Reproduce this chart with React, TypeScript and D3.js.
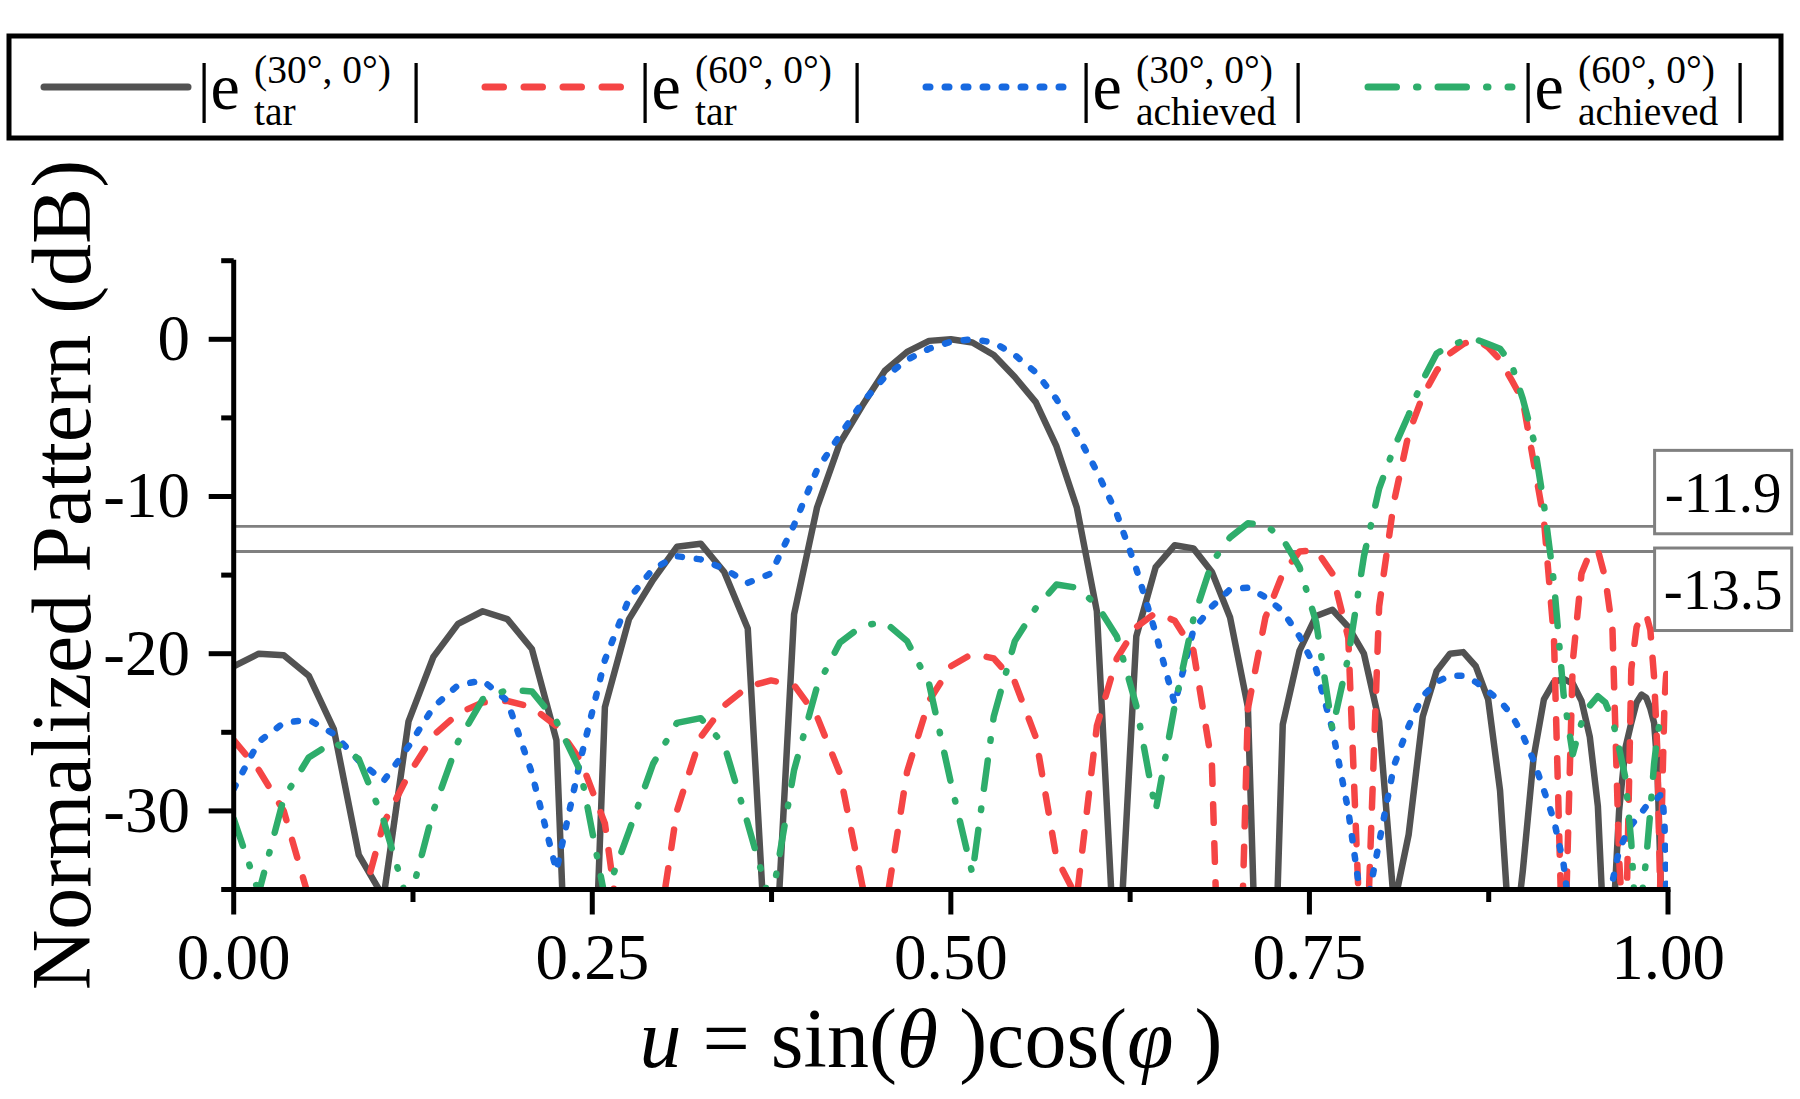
import React from "react";
import * as d3 from "d3";

// ---------- data ----------
// u = sin(theta)cos(phi) sample positions (theta stepped 0..90 deg, phi = 0)
const U = [
  0, 0.0175, 0.0349, 0.0523, 0.0698, 0.0872, 0.1045, 0.1219, 0.1392, 0.1564,
  0.1736, 0.1908, 0.2079, 0.225, 0.2419, 0.2588, 0.2756, 0.2924, 0.309, 0.3256,
  0.342, 0.3584, 0.3746, 0.3907, 0.4067, 0.4226, 0.4384, 0.454, 0.4695, 0.4848,
  0.5, 0.515, 0.5299, 0.5446, 0.5592, 0.5736, 0.5878, 0.6018, 0.6157, 0.6293,
  0.6428, 0.6561, 0.6691, 0.682, 0.6947, 0.7071, 0.7193, 0.7314, 0.7431, 0.7547,
  0.766, 0.7771, 0.788, 0.7986, 0.809, 0.8192, 0.829, 0.8387, 0.848, 0.8572,
  0.866, 0.8746, 0.8829, 0.891, 0.8988, 0.9063, 0.9135, 0.9205, 0.9272, 0.9336,
  0.9397, 0.9455, 0.9511, 0.9563, 0.9613, 0.9659, 0.9703, 0.9744, 0.9781, 0.9816,
  0.9848, 0.9877, 0.9903, 0.9925, 0.9945, 0.9962, 0.9976, 0.9986, 0.9994, 0.9998,
  1.0,
];

const TAR30 = [
  -20.8, -20.0, -20.1, -21.4, -24.8, -32.8, -35.5, -24.3, -20.2, -18.1,
  -17.3, -17.8, -19.7, -25.5, -65, -23.4, -17.8, -15.3, -13.2, -13.0,
  -14.8, -18.4, -45, -17.5, -10.7, -6.6, -4.2, -2.0, -0.8, -0.1,
  0, -0.2, -1.0, -2.4, -4.0, -6.8, -10.7, -17.3, -42, -18.9,
  -14.5, -13.1, -13.3, -14.8, -17.7, -23.4, -60, -24.5, -19.8, -17.6,
  -17.2, -18.3, -20.0, -24.3, -36, -31.5, -24.0, -21.1, -20.0, -19.9,
  -20.8, -22.9, -28.7, -40, -33.8, -26.6, -22.9, -21.8, -21.6, -21.9,
  -23.0, -25.3, -29.7, -40, -38, -30, -26.0, -24.4, -23.1, -22.6,
  -22.8, -23.5, -24.4, -27, -33, -40, -40, -40, -40, -40,
  -40,
];

const TAR60 = [
  -25.5, -27.4, -30.0, -35.5, -45, -36.6, -30.8, -27.7, -25.2, -23.8,
  -23.1, -23.0, -23.4, -24.6, -26.8, -30.8, -42, -40, -30.0, -25.3,
  -23.3, -22.1, -21.7, -22.0, -24.0, -27.6, -34.8, -36.5, -27.5, -23.0,
  -20.8, -20.0, -20.3, -21.8, -25.3, -33, -35.5, -24.6, -20.3, -18.3,
  -17.4, -17.9, -19.8, -27, -65, -23.5, -17.7, -14.9, -13.5, -13.4,
  -14.9, -19.0, -44, -17.0, -10.3, -6.0, -3.6, -2.0, -0.9, -0.3,
  0, -0.5, -1.3, -2.6, -3.9, -7.8, -11.5, -19, -42, -20.5,
  -14.9, -13.6, -13.4, -15.2, -18.5, -33, -40, -21, -18.3, -17.6,
  -17.5, -18.5, -21.5, -26, -35, -28, -23, -21.5, -20.8, -20.6,
  -20.5,
];

const ACH30 = [
  -28.6, -25.6, -24.4, -24.2, -25.1, -26.8, -28.1, -25.9, -23.4, -22.0,
  -21.7, -23.0, -27.6, -33.8, -26.7, -20.4, -16.5, -14.6, -13.8, -14.0,
  -14.6, -15.5, -14.9, -11.8, -8.3, -6.1, -4.0, -2.4, -1.3, -0.6,
  -0.15, 0, -0.2, -1.0, -2.1, -3.8, -6.0, -8.4, -11.1, -14.6,
  -18.7, -23.2, -18.5, -17.0, -15.9, -15.8, -16.4, -17.3, -18.9, -21.0,
  -24.8, -30.0, -37, -32, -27.1, -24.6, -22.7, -21.8, -21.4, -21.4,
  -21.8, -22.4, -23.0, -23.9, -25.2, -26.8, -28.7, -30.6, -33.4, -38,
  -45, -45, -42, -38, -34.5, -32.5, -31.6, -30.9, -30.5, -30.1,
  -29.7, -29.5, -29.3, -29.2, -29.0, -29.0, -31, -34, -40, -40,
  -40,
];

const ACH60 = [
  -30.5, -35.2, -29.2, -26.6, -25.6, -26.7, -30.6, -36, -30.0, -25.6,
  -22.9, -22.3, -22.4, -24.3, -27.5, -35.5, -31.3, -27.0, -24.4, -24.1,
  -25.8, -30.8, -36, -27.4, -22.1, -19.3, -18.2, -18.0, -19.2, -21.9,
  -28.2, -34, -24.0, -19.2, -17.1, -15.6, -15.8, -16.9, -18.9, -23.3,
  -30.0, -23.3, -17.8, -14.2, -12.6, -11.7, -11.8, -12.7, -14.5, -18.0,
  -24.8, -20.2, -13.8, -9.5, -6.9, -4.8, -2.6, -0.9, -0.4, -0.1,
  0, -0.3, -0.6, -1.6, -3.8, -6.4, -10.5, -15.5, -22.6, -26.4,
  -24.4, -23.3, -22.7, -23.1, -24.2, -26.0, -27.9, -32.0, -38, -35.5,
  -33.1, -30.0, -27.0, -25.3, -24.2, -23.9, -23.8, -23.8, -23.8, -23.8,
  -23.8,
];

const SERIES_NAMES = ["tar30", "tar60", "ach30", "ach60"];
const SERIES_VALUES = [TAR30, TAR60, ACH30, ACH60];
const SERIES_SUP = ["(30°, 0°)", "(60°, 0°)", "(30°, 0°)", "(60°, 0°)"];
const SERIES_SUB = ["tar", "tar", "achieved", "achieved"];

const Y_TICKS_MAJOR = [0, -10, -20, -30];
const Y_TICKS_MINOR = [5, -5, -15, -25, -35];
const X_TICKS_MAJOR = [0, 0.25, 0.5, 0.75, 1];
const X_TICKS_MINOR = [0.125, 0.375, 0.625, 0.875];
const X_TICK_LABELS = ["0.00", "0.25", "0.50", "0.75", "1.00"];
const REF_LEVELS = [-11.9, -13.5];
const REF_LABELS = ["-11.9", "-13.5"];

// ---------- styles ----------
const FONT = "'Liberation Serif', 'Times New Roman', Times, serif";
const STYLES = [
  { color: "#525252", dash: "none" },
  { color: "#F54545", dash: "18.5 20.5" },
  { color: "#1769E0", dash: "4 15" },
  { color: "#2EAD6B", dash: "28.5 20 1.5 20" },
];
const LW = 6.5;

export default function App() {
  const W = 1800;
  const H = 1099;
  const X0 = 233.7;
  const X1 = 1668;
  const YB = 889.5;
  const YT = 260.7;

  const x = d3.scaleLinear().domain([0, 1]).range([X0, X1]);
  const y = d3.scaleLinear().domain([-35, 5]).range([YB, YT]);

  const line = d3
    .line<number>()
    .x((_, i) => x(U[i]))
    .y((d) => y(d))
    .curve(d3.curveLinear);

  const boxLeft = 1654.6;
  const boxRight = 1791.7;
  // box vertical extents relative to the level line
  const boxOffsets = [
    [-76, 7.4],
    [-3.5, 79],
  ];

  const legendX = [41, 482, 923, 1365];

  return (
    <div style={{ position: "absolute", left: 0, top: 0 }}>
      <svg width={W} height={H} style={{ display: "block", background: "#fff" }}>
        <defs>
          <clipPath id="plotClip">
            <rect x={X0} y={240} width={X1 - X0} height={YB - 240} />
          </clipPath>
        </defs>
        <rect x={0} y={0} width={W} height={H} fill="#fff" />

        {/* Legend */}
        <rect x={9} y={36} width={1772} height={102} fill="#fff" stroke="#000" strokeWidth={5} />
        {SERIES_NAMES.map((name, i) => {
          const X = legendX[i];
          return (
            <g key={"leg" + name} fontFamily={FONT} fill="#000">
              <line
                x1={X + 3}
                x2={X + 147}
                y1={87}
                y2={87}
                stroke={STYLES[i].color}
                strokeWidth={7}
                strokeLinecap="round"
                strokeDasharray={STYLES[i].dash === "none" ? undefined : STYLES[i].dash}
              />
              <text x={X + 156.4} y={109} fontSize={66}>
                |e
              </text>
              <text x={X + 213} y={83} fontSize={39.5}>
                {SERIES_SUP[i]}
              </text>
              <text x={X + 213} y={125} fontSize={39.5}>
                {SERIES_SUB[i]}
              </text>
              <text x={X + 368.4} y={109} fontSize={66}>
                |
              </text>
            </g>
          );
        })}

        {/* Reference level lines and boxes */}
        {REF_LEVELS.map((lv, i) => {
          const yl = y(lv);
          const [t, b] = boxOffsets[i];
          return (
            <g key={"ref" + i}>
              <line x1={X0} x2={boxLeft} y1={yl} y2={yl} stroke="#808080" strokeWidth={2.8} />
              <rect
                x={boxLeft}
                y={yl + t}
                width={boxRight - boxLeft}
                height={b - t}
                fill="#fff"
                stroke="#808080"
                strokeWidth={3}
              />
              <text
                x={(boxLeft + boxRight) / 2}
                y={yl + (t + b) / 2 + 19.5}
                fontSize={57}
                fontFamily={FONT}
                textAnchor="middle"
                fill="#000"
              >
                {REF_LABELS[i]}
              </text>
            </g>
          );
        })}

        {/* Series */}
        <g clipPath="url(#plotClip)" fill="none">
          {SERIES_VALUES.map((vals, i) => (
            <path
              key={"s" + SERIES_NAMES[i]}
              d={line(vals) || ""}
              stroke={STYLES[i].color}
              strokeWidth={LW}
              strokeLinecap="round"
              strokeLinejoin="round"
              strokeDasharray={STYLES[i].dash === "none" ? undefined : STYLES[i].dash}
            />
          ))}
        </g>

        {/* Axes */}
        <g stroke="#000" strokeWidth={5}>
          <line x1={X0} x2={X0} y1={YT - 1} y2={YB + 2.5} />
          <line x1={X0 - 2.5} x2={X1 + 2.5} y1={YB} y2={YB} />
          {Y_TICKS_MAJOR.map((t) => (
            <line key={"ym" + t} x1={X0 - 25} x2={X0} y1={y(t)} y2={y(t)} />
          ))}
          {Y_TICKS_MINOR.map((t) => (
            <line key={"yn" + t} x1={X0 - 12.5} x2={X0} y1={y(t)} y2={y(t)} />
          ))}
          {X_TICKS_MAJOR.map((t) => (
            <line key={"xm" + t} x1={x(t)} x2={x(t)} y1={YB} y2={YB + 25} />
          ))}
          {X_TICKS_MINOR.map((t) => (
            <line key={"xn" + t} x1={x(t)} x2={x(t)} y1={YB} y2={YB + 12.5} />
          ))}
        </g>

        <g fontFamily={FONT} fill="#000" fontSize={65}>
          {Y_TICKS_MAJOR.map((t) => (
            <text key={"yl" + t} x={190} y={y(t)} dy="0.32em" textAnchor="end">
              {t === 0 ? "0" : "-" + Math.abs(t)}
            </text>
          ))}
          {X_TICKS_MAJOR.map((t, i) => (
            <text key={"xl" + t} x={x(t)} y={979} textAnchor="middle">
              {X_TICK_LABELS[i]}
            </text>
          ))}
        </g>

        {/* Axis titles */}
        <text
          transform={`translate(90, ${(YT + YB) / 2}) rotate(-90)`}
          textAnchor="middle"
          fontFamily={FONT}
          fontSize={84}
          fill="#000"
        >
          Normalized Pattern (dB)
        </text>
        <text x={931} y={1067} textAnchor="middle" fontFamily={FONT} fontSize={84} fill="#000">
          <tspan fontStyle="italic">u</tspan>
          {" = sin("}
          <tspan fontStyle="italic">θ</tspan>
          {" )cos("}
          <tspan fontStyle="italic">φ</tspan>
          {" )"}
        </text>
      </svg>
    </div>
  );
}
